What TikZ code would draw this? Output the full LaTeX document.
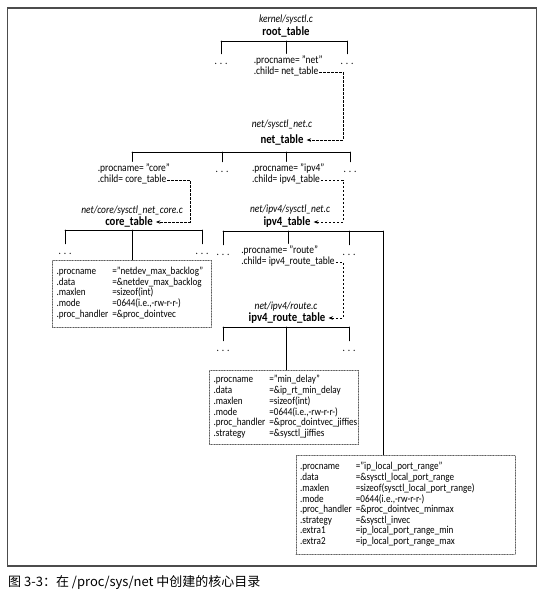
\documentclass[tikz,border=0pt]{standalone}
\usepackage{fontspec}
\setmainfont{Carlito}[FakeStretch=0.86]
\newfontfamily\cjkfont{Noto Sans CJK SC}
\usetikzlibrary{arrows.meta}
\begin{document}
\begin{tikzpicture}[x=1pt,y=-1pt,line cap=round]
        % Styles
        \tikzstyle{file name}=[font=\fontsize{11}{11}\selectfont\itshape,inner sep=0pt]
        \tikzstyle{table name}=[font=\fontsize{12.5}{12}\selectfont\bfseries,inner xsep=3pt,inner ysep=0pt]
        \tikzstyle{entry}=[font=\fontsize{11}{10}\selectfont,inner xsep=1pt,inner ysep=0pt,text height=7pt,text depth=3pt]
        \tikzstyle{tree line}=[line width=0.8pt]
        \tikzstyle{twig}=[tree line,shorten >=3pt]
        \tikzstyle{child link}=[line width=0.6pt,line cap=butt,dash pattern=on 2.2pt off 1.8pt,-{Stealth[length=4.5pt,width=3.5pt]}]
        \tikzstyle{entry box}=[draw=black!65,line width=0.6pt,densely dotted,inner xsep=4pt,inner ysep=0pt,
            font=\fontsize{10.6}{10.5}\selectfont,align=left,anchor=north]
        \useasboundingbox (0,0) rectangle (544,598);
        %frame
        \draw[black!70,line width=1.1pt] (7.5,8) rectangle (536.5,566);
        \coordinate (leftlink) at (190,0);
        \coordinate (rightlink) at (343,0);
        %root_table
        \node[file name] (rootfile) at (286,20) {kernel/sysctl.c};
        \node[table name] (roottab) at (286,32) {root\_table};
        \coordinate (rootbar) at (286,41);
        \node[entry] (rootl) at (221,62) {. . .};
        \node[entry] (netchild) at (286,72) {.child= net\_table};
        \node[entry,anchor=south west] (netproc) at (netchild.north west) {.procname= "net"};
        \node[entry] (rootr) at (347,62) {. . .};
        \draw[tree line] (rootl |- rootbar) -- (rootr |- rootbar);
        \foreach \n/\m in {rootl/rootl,netchild/netproc,rootr/rootr}
            \draw[twig] (\n |- rootbar) -- (\n |- \m.north);
        %net_table
        \node[file name] (netfile) at (282,125) {net/sysctl\_net.c};
        \node[table name] (nettab) at (282,140) {net\_table};
        \coordinate (netbar) at (282,152);
        \node[entry] (corechild) at (132,180) {.child= core\_table};
        \node[entry,anchor=south west] (coreproc) at (corechild.north west) {.procname= "core"};
        \node[entry] (netm) at (222,170) {. . .};
        \node[entry] (ipvchild) at (286,180) {.child= ipv4\_table};
        \node[entry,anchor=south west] (ipvproc) at (ipvchild.north west) {.procname= "ipv4"};
        \node[entry] (netr) at (350,170) {. . .};
        \draw[tree line] (corechild |- netbar) -- (netr |- netbar);
        \foreach \n/\m in {corechild/coreproc,netm/netm,ipvchild/ipvproc,netr/netr}
            \draw[twig] (\n |- netbar) -- (\n |- \m.north);
        \draw[child link] (netchild.east) -- (netchild.east -| rightlink) |- (nettab.east);
        %core_table
        \node[file name] (corefile) at (132,211) {net/core/sysctl\_net\_core.c};
        \node[table name] (coretab) at (129,222) {core\_table};
        \coordinate (corebar) at (132,230);
        \node[entry] (corel) at (65,252) {. . .};
        \node[entry box,text width=151pt,minimum height=67pt] (corebox) at (132,260) {%
            \begin{tabular}{@{}l@{\hspace{4pt}}l@{}}
            .procname & ="netdev\_max\_backlog"\\
            .data & =\&netdev\_max\_backlog\\
            .maxlen & =sizeof(int)\\
            .mode & =0644(i.e.,-rw-r-r-)\\
            .proc\_handler & =\&proc\_dointvec
            \end{tabular}};
        \node[entry] (corer) at (202,252) {. . .};
        \draw[tree line] (corel |- corebar) -- (corer |- corebar);
        \foreach \n in {corel,corer}
            \draw[twig] (\n |- corebar) -- (\n.north);
        \draw[tree line] (corebox |- corebar) -- (corebox.north);
        \draw[child link] (corechild.east) -- (corechild.east -| leftlink) |- (coretab.east);
        %ipv4_table
        \node[file name] (ipvfile) at (290,210) {net/ipv4/sysctl\_net.c};
        \node[table name] (ipvtab) at (287,222) {ipv4\_table};
        \coordinate (ipvbar) at (287,231);
        \coordinate (ipvlong) at (383,231);
        \node[entry] (ipvl) at (223,253) {. . .};
        \node[entry] (routechild) at (288,262) {.child= ipv4\_route\_table};
        \node[entry,anchor=south west] (routeproc) at (routechild.north west) {.procname= "route"};
        \node[entry] (ipvr) at (349,253) {. . .};
        \draw[tree line] (ipvl |- ipvbar) -- (ipvlong);
        \foreach \n/\m in {ipvl/ipvl,routechild/routeproc,ipvr/ipvr}
            \draw[twig] (\n |- ipvbar) -- (\n |- \m.north);
        \draw[child link] (ipvchild.east) -- (ipvchild.east -| rightlink) |- (ipvtab.east);
        %ipv4_route_table
        \node[file name] (routefile) at (286,307) {net/ipv4/route.c};
        \node[table name] (routetab) at (287,318) {ipv4\_route\_table};
        \coordinate (routebar) at (286,327);
        \node[entry] (routel) at (223,349) {. . .};
        \node[entry box,text width=141pt,minimum height=74pt] (delaybox) at (284,370) {%
            \begin{tabular}{@{}l@{\hspace{4pt}}l@{}}
            .procname & ="min\_delay"\\
            .data & =\&ip\_rt\_min\_delay\\
            .maxlen & =sizeof(int)\\
            .mode & =0644(i.e.,-rw-r-r-)\\
            .proc\_handler & =\&proc\_dointvec\_jiffies\\
            .strategy & =\&sysctl\_jiffies
            \end{tabular}};
        \node[entry] (router) at (349,349) {. . .};
        \draw[tree line] (routel |- routebar) -- (router |- routebar);
        \foreach \n in {routel,router}
            \draw[twig] (\n |- routebar) -- (\n.north);
        \draw[tree line] (routebar) -- (routebar |- delaybox.north);
        \draw[child link] (routechild.east) -- (routechild.east -| rightlink) |- (routetab.east);
        %ip_local_port_range
        \node[entry box,text width=211pt,minimum height=99pt] (localbox) at (405.5,455) {%
            \begin{tabular}{@{}l@{\hspace{4pt}}l@{}}
            .procname & ="ip\_local\_port\_range"\\
            .data & =\&sysctl\_local\_port\_range\\
            .maxlen & =sizeof(sysctl\_local\_port\_range)\\
            .mode & =0644(i.e.,-rw-r-r-)\\
            .proc\_handler & =\&proc\_dointvec\_minmax\\
            .strategy & =\&sysctl\_invec\\
            .extra1 & =ip\_local\_port\_range\_min\\
            .extra2 & =ip\_local\_port\_range\_max
            \end{tabular}};
        \draw[tree line] (ipvlong) -- (ipvlong |- localbox.north);
        %caption
        \node[anchor=west,inner sep=0pt,font=\cjkfont\fontsize{13}{13}\selectfont] (caption) at (8,583)
            {图 3-3：在 /proc/sys/net 中创建的核心目录};
\end{tikzpicture}
\end{document}
